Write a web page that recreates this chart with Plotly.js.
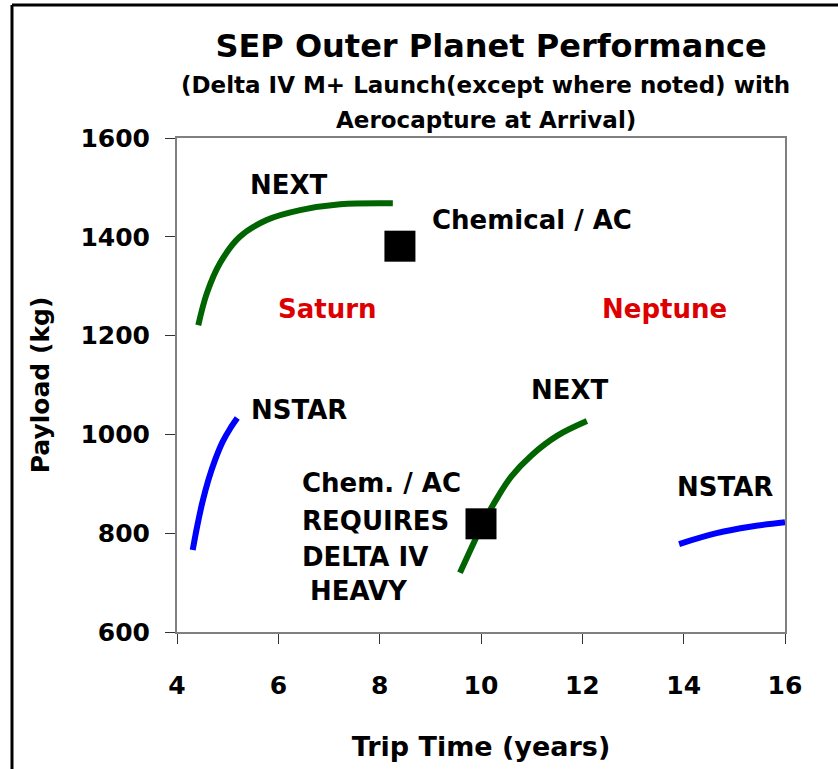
<!DOCTYPE html>
<html>
<head>
<meta charset="utf-8">
<script src="https://cdn.plot.ly/plotly-3.0.1.min.js"></script>
<style>html,body{margin:0;padding:0;background:#fff}#chart{width:838px;height:769px}</style>
</head>
<body>
<div id="chart"></div>
<script>
// Saturn, NEXT thruster
const saturnNextX = [4.42, 4.59, 4.85, 5.24, 5.77, 6.43, 7.22, 8.26];
const saturnNextY = [1221, 1286, 1347, 1400, 1434, 1454, 1466, 1468];
// Saturn, NSTAR thruster
const saturnNstarX = [4.31, 4.4, 4.5, 4.62, 4.75, 4.9, 5.05, 5.19];
const saturnNstarY = [766, 815, 862, 908, 948, 985, 1012, 1033];
// Neptune, NEXT thruster
const neptuneNextX = [9.585, 9.8, 10.05, 10.3, 10.6, 11.0, 11.5, 12.09];
const neptuneNextY = [720, 768, 822, 868, 915, 958, 997, 1027];
// Neptune, NSTAR thruster
const neptuneNstarX = [13.91, 14.65, 15.31, 16.0];
const neptuneNstarY = [778, 800, 813, 822];
// Chemical / aerocapture reference points
const chemX = [8.4, 10.0];
const chemY = [1381, 819];

const xTicks = [4, 6, 8, 10, 12, 14, 16];
const yTicks = [600, 800, 1000, 1200, 1400, 1600];

const FONT = "Comic Sans MS, DejaVu Sans, sans-serif";
const GREEN = "#006400";
const BLUE = "#0000ff";
const RED = "#dd0000";

const lineTrace = (x, y, color, name) => ({
  x, y, name, type: "scatter", mode: "lines",
  line: {color, width: 6, shape: "spline", smoothing: 1}, hoverinfo: "x+y"
});

const data = [
  lineTrace(saturnNextX, saturnNextY, GREEN, "Saturn NEXT"),
  lineTrace(saturnNstarX, saturnNstarY, BLUE, "Saturn NSTAR"),
  lineTrace(neptuneNextX, neptuneNextY, GREEN, "Neptune NEXT"),
  lineTrace(neptuneNstarX, neptuneNstarY, BLUE, "Neptune NSTAR"),
  {x: chemX, y: chemY, name: "Chemical / AC", type: "scatter", mode: "markers",
   marker: {symbol: "square", size: 31, color: "#000"}, cliponaxis: false}
];

const txt = (text, x, y, opts = {}) => Object.assign({
  text, x, y, xref: "x", yref: "y", showarrow: false,
  font: {family: FONT, size: 26, color: "#000", weight: "bold"}
}, opts);

const layout = {
  width: 838, height: 769,
  margin: {l: 177, r: 53, t: 138, b: 137},
  paper_bgcolor: "#fff", plot_bgcolor: "#fff",
  showlegend: false,
  font: {family: FONT, color: "#000", weight: "bold"},
  title: {
    text: "SEP Outer Planet Performance",
    font: {family: FONT, size: 32, color: "#000", weight: "bold"},
    x: 0.586, xanchor: "center", xref: "container",
    y: 0.941, yanchor: "middle", yref: "container"
  },
  xaxis: {
    range: [4, 16], tickvals: xTicks, ticktext: xTicks.map(String),
    showgrid: false, zeroline: false,
    showline: true, linecolor: "#808080", linewidth: 2, mirror: true,
    ticks: "outside", ticklen: 10, tickcolor: "#333", tickwidth: 1,
    tickfont: {family: FONT, size: 25, weight: "bold"},
    ticklabelstandoff: 20,
    title: {text: "Trip Time (years)", font: {family: FONT, size: 27, weight: "bold"}, standoff: 38}
  },
  yaxis: {
    range: [600, 1600], tickvals: yTicks, ticktext: yTicks.map(String),
    showgrid: false, zeroline: false,
    showline: true, linecolor: "#808080", linewidth: 2, mirror: true,
    ticks: "outside", ticklen: 10, tickcolor: "#333", tickwidth: 1,
    tickfont: {family: FONT, size: 25, weight: "bold"},
    ticklabelstandoff: 10,
    title: {text: "Payload (kg)", font: {family: FONT, size: 25, weight: "bold"}, standoff: 24}
  },
  annotations: [
    {text: "(Delta IV M+ Launch(except where noted) with", xref: "paper", yref: "paper",
     x: 0.508, y: 1.1073, xanchor: "center", yanchor: "middle", showarrow: false,
     font: {family: FONT, size: 23, color: "#000", weight: "bold"}},
    {text: "Aerocapture at Arrival)", xref: "paper", yref: "paper",
     x: 0.508, y: 1.0364, xanchor: "center", yanchor: "middle", showarrow: false,
     font: {family: FONT, size: 23, color: "#000", weight: "bold"}},
    txt("NEXT", 6.21, 1505),
    txt("Chemical / AC", 8.99, 1434, {xanchor: "left"}),
    txt("Saturn", 6.98, 1254, {font: {family: FONT, size: 26, color: RED, weight: "bold"}}),
    txt("Neptune", 13.63, 1254, {font: {family: FONT, size: 26, color: RED, weight: "bold"}}),
    txt("NSTAR", 5.42, 1049, {xanchor: "left"}),
    txt("NEXT", 11.76, 1090),
    txt("Chem. / AC", 6.43, 902, {xanchor: "left"}),
    txt("REQUIRES", 6.43, 825, {xanchor: "left"}),
    txt("DELTA IV", 6.43, 752, {xanchor: "left"}),
    txt("HEAVY", 6.59, 683, {xanchor: "left"}),
    txt("NSTAR", 14.82, 893)
  ],
  shapes: [
    {type: "line", xref: "paper", yref: "paper", x0: -0.2714, x1: -0.2714, y0: -0.4, y1: 1.2692,
     line: {color: "#000", width: 3}},
    {type: "line", xref: "paper", yref: "paper", x0: -0.2714, x1: 1.2, y0: 1.2692, y1: 1.2692,
     line: {color: "#000", width: 3}}
  ]
};

Plotly.newPlot("chart", data, layout, {displayModeBar: false, staticPlot: true});
</script>
</body>
</html>
